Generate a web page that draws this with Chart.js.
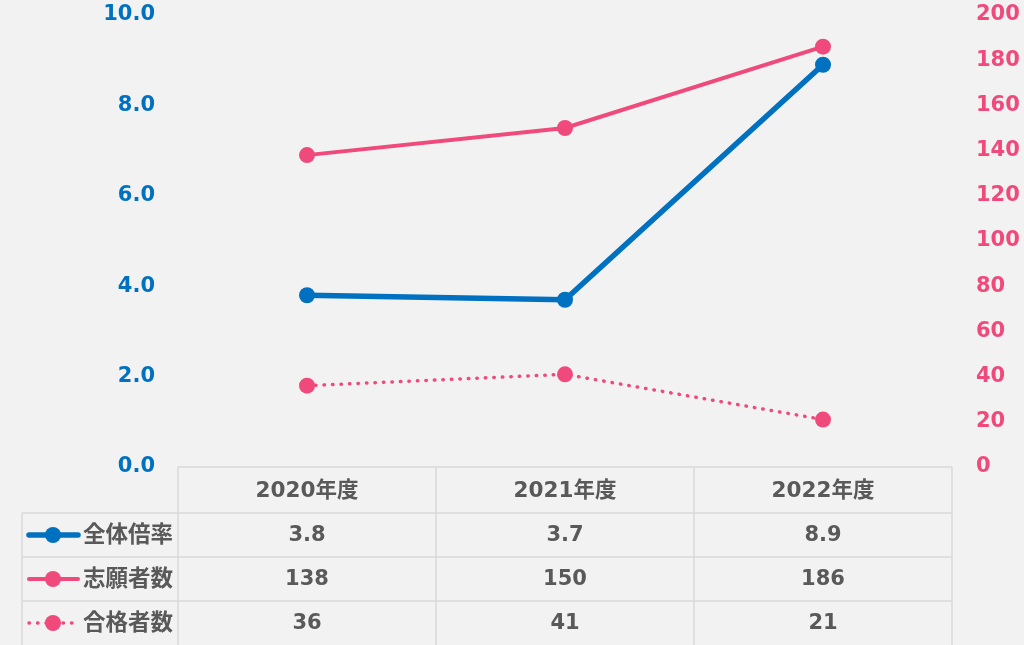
<!DOCTYPE html>
<html>
<head>
<meta charset="utf-8">
<script src="https://cdn.jsdelivr.net/npm/chart.js@4"></script>
<style>
  html, body { margin: 0; padding: 0; background: #f2f2f2; }
  #wrap { width: 1024px; height: 645px; }
</style>
</head>
<body>
<div id="wrap"><canvas id="chart" width="1024" height="645"></canvas></div>
<script>
const categories = ["2020年度", "2021年度", "2022年度"];
const rateValues = [3.8, 3.7, 8.9];
const applicantValues = [138, 150, 186];
const passerValues = [36, 41, 21];
const rowLabels = ["全体倍率", "志願者数", "合格者数"];
const leftTicks = [0, 2, 4, 6, 8, 10];
const rightTicks = [0, 20, 40, 60, 80, 100, 120, 140, 160, 180, 200];

const BLUE = "#0070c0";
const PINK = "#ef4a7b";
const TEXT = "#595959";
const GRID = "#d9d9d9";
const FONT = '"DejaVu Sans", "Noto Sans CJK JP", sans-serif';

// table under the plot, drawn with the x scale positions
const tablePlugin = {
    id: "dataTable",
    afterDraw(chart) {
        const ctx = chart.ctx;
        const area = chart.chartArea;
        const x = chart.scales.x;
        const labelLeft = 22;
        const rowH = 44;
        const headTop = area.bottom;
        const headBottom = headTop + 46;
        const bottom = chart.height;

        ctx.save();
        ctx.strokeStyle = GRID;
        ctx.lineWidth = 1.5;
        ctx.beginPath();
        ctx.moveTo(area.left, headTop);
        ctx.lineTo(area.right, headTop);
        for (let r = 0; r < 3; r++) {
            const y = headBottom + r * rowH;
            ctx.moveTo(labelLeft, y);
            ctx.lineTo(area.right, y);
        }
        ctx.moveTo(labelLeft, headBottom);
        ctx.lineTo(labelLeft, bottom);
        const step = (area.right - area.left) / categories.length;
        for (let i = 0; i <= categories.length; i++) {
            const vx = area.left + i * step;
            ctx.moveTo(vx, headTop);
            ctx.lineTo(vx, bottom);
        }
        ctx.stroke();

        ctx.fillStyle = TEXT;
        ctx.font = "bold 21.5px " + FONT;
        ctx.textAlign = "center";
        ctx.textBaseline = "middle";
        categories.forEach(function (c, i) {
            ctx.fillText(c, x.getPixelForValue(i), (headTop + headBottom) / 2 + 1);
        });

        const rows = [
            { values: rateValues, fmt: v => v.toFixed(1), ds: chart.data.datasets[0] },
            { values: applicantValues, fmt: v => String(v), ds: chart.data.datasets[1] },
            { values: passerValues, fmt: v => String(v), ds: chart.data.datasets[2] }
        ];
        rows.forEach(function (row, r) {
            const cy = headBottom + r * rowH + rowH / 2;
            // legend key
            ctx.save();
            ctx.strokeStyle = row.ds.borderColor;
            ctx.lineWidth = row.ds.borderWidth;
            ctx.lineCap = "round";
            ctx.setLineDash(row.ds.borderDash || []);
            ctx.beginPath();
            ctx.moveTo(29, cy);
            ctx.lineTo(78, cy);
            ctx.stroke();
            ctx.setLineDash([]);
            ctx.fillStyle = row.ds.pointBackgroundColor;
            ctx.beginPath();
            ctx.arc(53, cy, 8, 0, Math.PI * 2);
            ctx.fill();
            ctx.restore();

            ctx.fillStyle = TEXT;
            ctx.textAlign = "left";
            ctx.font = "bold 22.5px " + FONT;
            ctx.fillText(rowLabels[r], 83, cy + 1);
            ctx.textAlign = "center";
            ctx.font = "bold 21px " + FONT;
            row.values.forEach(function (v, i) {
                ctx.fillText(row.fmt(v), x.getPixelForValue(i), cy + 1);
            });
        });
        ctx.restore();
    }
};

const bgPlugin = {
    id: "bg",
    beforeDraw(chart) {
        const ctx = chart.ctx;
        ctx.save();
        ctx.fillStyle = "#f2f2f2";
        ctx.fillRect(0, 0, chart.width, chart.height);
        ctx.restore();
    }
};

function fitLeft(scale) {
    scale.width = 178;
    scale.paddingTop = 0;
    scale.paddingBottom = 0;
}

function fitRight(scale) {
    scale.width = 72;
    scale.paddingTop = 0;
    scale.paddingBottom = 0;
}

new Chart(document.getElementById("chart").getContext("2d"), {
    type: "line",
    data: {
        labels: categories,
        datasets: [{
            label: rowLabels[0],
            data: rateValues,
            yAxisID: "y",
            borderColor: BLUE,
            backgroundColor: BLUE,
            pointBackgroundColor: BLUE,
            pointBorderWidth: 0,
            pointRadius: 8,
            borderWidth: 5.5,
            tension: 0
        }, {
            label: rowLabels[1],
            data: applicantValues,
            yAxisID: "y1",
            borderColor: PINK,
            backgroundColor: PINK,
            pointBackgroundColor: PINK,
            pointBorderWidth: 0,
            pointRadius: 8,
            borderWidth: 4,
            tension: 0
        }, {
            label: rowLabels[2],
            data: passerValues,
            yAxisID: "y1",
            borderColor: PINK,
            backgroundColor: PINK,
            pointBackgroundColor: PINK,
            pointBorderWidth: 0,
            pointRadius: 8,
            borderWidth: 3.5,
            borderDash: [0.5, 8],
            borderCapStyle: "round",
            tension: 0
        }]
    },
    options: {
        responsive: false,
        animation: false,
        layout: { padding: { top: 15, bottom: 178, left: 0, right: 0 } },
        plugins: { legend: { display: false }, tooltip: { enabled: false } },
        scales: {
            x: {
                display: false,
                offset: true
            },
            y: {
                position: "left",
                min: 0,
                max: 10,
                afterBuildTicks: function (scale) {
                    scale.ticks = leftTicks.map(v => ({ value: v }));
                },
                afterFit: fitLeft,
                grid: { display: false },
                border: { display: false },
                ticks: {
                    color: BLUE,
                    padding: 15,
                    font: { family: FONT, size: 21, weight: "bold" },
                    callback: v => v.toFixed(1)
                }
            },
            y1: {
                position: "right",
                min: 0,
                max: 200,
                afterBuildTicks: function (scale) {
                    scale.ticks = rightTicks.map(v => ({ value: v }));
                },
                afterFit: fitRight,
                grid: { display: false },
                border: { display: false },
                ticks: {
                    color: PINK,
                    padding: 16,
                    font: { family: FONT, size: 21, weight: "bold" }
                }
            }
        }
    },
    plugins: [bgPlugin, tablePlugin]
});
</script>
</body>
</html>
